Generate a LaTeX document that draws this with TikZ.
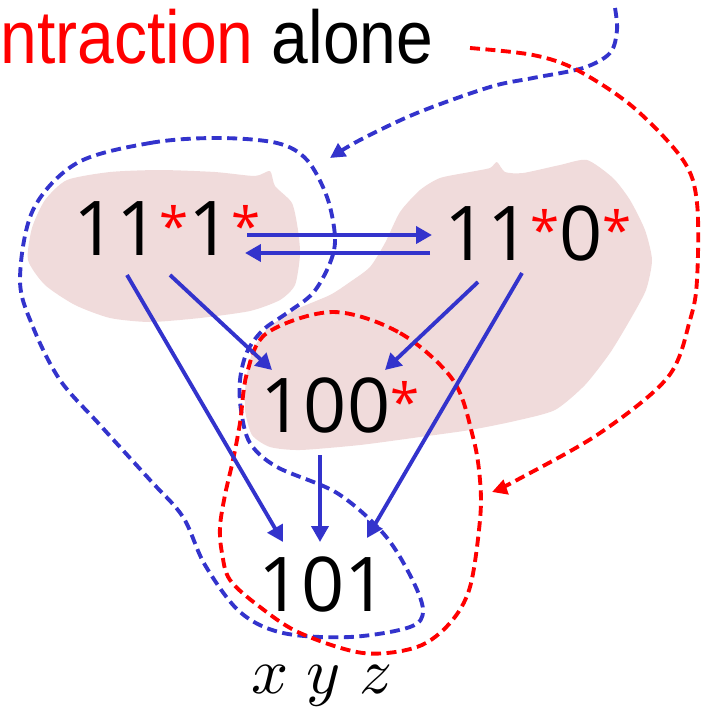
\documentclass[tikz,border=0pt]{standalone}
\usepackage{fontspec}
\usepackage{graphicx}
\usepackage{xcolor}
\usetikzlibrary{arrows.meta,calc}
\newfontfamily\numfont{Open Sans}
\newfontfamily\titlefont[FakeStretch=0.88]{Liberation Sans}
\definecolor{loopblue}{RGB}{51,51,204}
\definecolor{blobpink}{RGB}{240,219,219}
\newcommand{\rst}{\textcolor{red}{\fontsize{30}{30}\selectfont\raisebox{6pt}{*}}}
\tikzset{
  state/.style={font=\numfont\fontsize{43}{50}\selectfont,inner sep=0pt},
  ttl/.style={font=\titlefont\fontsize{42.7}{50}\selectfont,inner sep=0pt},
  blob/.style={fill=blobpink,draw=none},
  trans/.style={line width=2.2pt,loopblue,-{Triangle[length=3.2mm,width=3.4mm]}},
  bluedash/.style={line width=2.2pt,loopblue,dash pattern=on 2mm off 1.1mm},
  reddash/.style={line width=2.2pt,red,dash pattern=on 2mm off 1.1mm},
  dtip/.style={-{Triangle[length=3mm,width=3mm]}}
}
\begin{document}
\begin{tikzpicture}[x=0.02cm,y=-0.02cm]
  \useasboundingbox (0,0) rectangle (701,708);
  % shaded regions
  \fill[blob] plot[smooth cycle,tension=0.4] coordinates {(67,180) (110,172) (160,170) (215,172) (255,176) (270,171) (275,186) (292,203) (298,230) (300,255) (295,285) (280,300) (250,311) (200,318) (150,322) (110,318) (75,305) (45,285) (28,260) (32,228) (45,200)};
  \fill[blob] plot[smooth cycle,tension=0.4] coordinates {(420,190) (440,178) (470,172) (490,168) (497,162) (505,172) (523,173) (560,165) (587,160) (613,178) (630,200) (645,230) (652,260) (646,290) (630,320) (610,353) (585,385) (555,410) (515,421) (470,430) (420,437) (360,445) (300,450) (270,447) (252,435) (245,410) (246,380) (253,350) (268,328) (295,310) (330,295) (350,282) (370,267) (385,243) (400,212)};
  % states
  \node[state] (n11) at (167,229) {11\rst1\rst};
  \node[state] (n10) at (538,233) {11\rst0\rst};
  \node[state] (n100) at (340,405) {100\rst};
  \node[state] (n101) at (323,584) {101};
  \node[ttl,anchor=base west] (title) at (0,63) {\textcolor{red}{ntraction} alone};
  \node[inner sep=0pt,anchor=base] (vars) at (322,693) {\scalebox{3.7}{$x\;y\;z$}};
  % loops
  \draw[bluedash] plot[smooth cycle,tension=0.55] coordinates {(77,163) (150,143) (217,138) (277,143) (307,160) (327,197) (335,237) (330,263) (313,293) (287,313) (263,330) (247,352) (240,380) (241,410) (250,443) (277,467) (337,493) (383,533) (410,575) (423,610) (410,627) (350,637) (283,633) (240,612) (205,565) (183,517) (150,480) (100,425) (60,380) (33,327) (20,280) (33,210)};
  \draw[reddash] plot[smooth cycle,tension=0.55] coordinates {(333,312) (400,333) (453,380) (473,437) (480,480) (480,520) (470,587) (450,623) (417,647) (363,653) (300,633) (260,607) (230,580) (222,553) (220,527) (225,495) (233,460) (240,423) (247,373) (267,333)};
  \draw[bluedash,dtip] plot[smooth,tension=0.55] coordinates {(615,8) (617,30) (610,53) (583,68) (533,78) (490,87) (417,113) (360,140) (330,158)};
  \draw[reddash,dtip] plot[smooth,tension=0.55] coordinates {(470,48) (533,55) (577,70) (633,107) (683,160) (697,203) (697,280) (690,320) (668,377) (600,433) (517,480) (492,492)};
  % transitions
  \draw[trans] ($(n11)+(80,6)$) -- ($(n10)+(-106,2)$);
  \draw[trans] ($(n10)+(-108,20)$) -- ($(n11)+(78,24)$);
  \draw[trans] ($(n11)+(3,46)$) -- ($(n100)+(-68,-35)$);
  \draw[trans] ($(n11)+(-40,46)$) -- ($(n101)+(-40,-42)$);
  \draw[trans] ($(n10)+(-60,49)$) -- ($(n100)+(45,-35)$);
  \draw[trans] ($(n10)+(-16,40)$) -- ($(n101)+(44,-46)$);
  \draw[trans] ($(n100)+(-20,50)$) -- ($(n101)+(-3,-42)$);
\end{tikzpicture}
\end{document}
